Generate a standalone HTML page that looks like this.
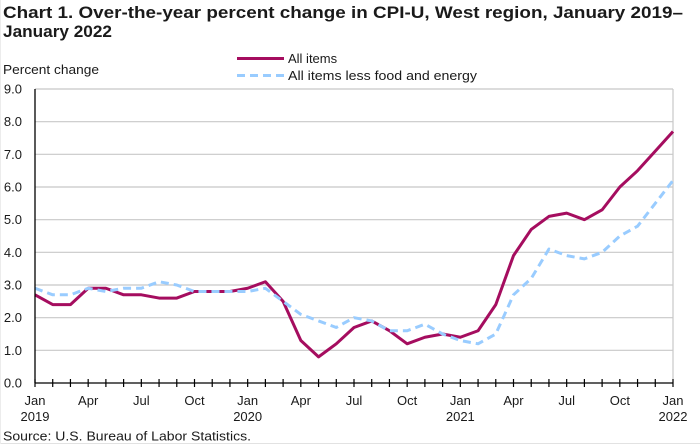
<!DOCTYPE html>
<html>
<head>
<meta charset="utf-8">
<style>
html,body{margin:0;padding:0;background:#fff;}
svg{display:block;}
text{font-family:"Liberation Sans",Arial,sans-serif;fill:#1a1a1a;}
</style>
</head>
<body>
<svg width="700" height="445" viewBox="0 0 700 445" xmlns="http://www.w3.org/2000/svg">
<rect x="0" y="0" width="700" height="445" fill="#fff"/>
<line x1="0" y1="443.5" x2="700" y2="443.5" stroke="#e2e2e2" stroke-width="1"/>
<line x1="0.5" y1="0" x2="0.5" y2="444" stroke="#ececec" stroke-width="1"/>

<!-- Title -->
<text x="3" y="18" font-size="16.5" font-weight="bold" textLength="680" lengthAdjust="spacingAndGlyphs">Chart 1. Over-the-year percent change in CPI-U, West region, January 2019–</text>
<text x="3" y="37" font-size="16.5" font-weight="bold" textLength="109" lengthAdjust="spacingAndGlyphs">January 2022</text>

<!-- Legend -->
<line x1="237" y1="58.5" x2="284" y2="58.5" stroke="#A50D5F" stroke-width="3"/>
<text x="288" y="63" font-size="13">All items</text>
<line x1="237" y1="75.5" x2="284" y2="75.5" stroke="#99CCFF" stroke-width="3" stroke-dasharray="8,5"/>
<text x="288" y="80" font-size="13" textLength="189" lengthAdjust="spacingAndGlyphs">All items less food and energy</text>

<!-- Y label -->
<text x="3" y="74" font-size="13" textLength="96" lengthAdjust="spacingAndGlyphs">Percent change</text>

<!-- gridlines -->
<g stroke="#c8c8c8" stroke-width="1.2">
<line x1="35" y1="350.33" x2="673" y2="350.33"/>
<line x1="35" y1="317.67" x2="673" y2="317.67"/>
<line x1="35" y1="285" x2="673" y2="285"/>
<line x1="35" y1="252.33" x2="673" y2="252.33"/>
<line x1="35" y1="219.67" x2="673" y2="219.67"/>
<line x1="35" y1="187" x2="673" y2="187"/>
<line x1="35" y1="154.33" x2="673" y2="154.33"/>
<line x1="35" y1="121.67" x2="673" y2="121.67"/>
<line x1="35" y1="89" x2="673" y2="89"/>
<line x1="673" y1="89" x2="673" y2="383"/>
</g>

<!-- Y tick labels -->
<g font-size="13" text-anchor="end">
<text x="22" y="387.5">0.0</text>
<text x="22" y="354.8">1.0</text>
<text x="22" y="322.2">2.0</text>
<text x="22" y="289.5">3.0</text>
<text x="22" y="256.8">4.0</text>
<text x="22" y="224.2">5.0</text>
<text x="22" y="191.5">6.0</text>
<text x="22" y="158.8">7.0</text>
<text x="22" y="126.2">8.0</text>
<text x="22" y="93.5">9.0</text>
</g>

<!-- series -->
<polyline fill="none" stroke="#A50D5F" stroke-width="3" stroke-linejoin="round" points="35,294.8 52.72,304.6 70.44,304.6 88.17,288.27 105.89,288.27 123.61,294.8 141.33,294.8 159.06,298.07 176.78,298.07 194.5,291.53 212.22,291.53 229.94,291.53 247.67,288.27 265.39,281.73 283.11,301.33 300.83,340.53 318.56,356.87 336.28,343.8 354,327.47 371.72,320.93 389.44,330.73 407.17,343.8 424.89,337.27 442.61,334 460.33,337.27 478.06,330.73 495.78,304.6 513.5,255.6 531.22,229.47 548.94,216.4 566.67,213.13 584.39,219.67 602.11,209.87 619.83,187 637.56,170.67 655.28,151.07 673,131.47"/>
<polyline fill="none" stroke="#99CCFF" stroke-width="3" stroke-dasharray="8,5" stroke-linejoin="round" points="35,288.27 52.72,294.8 70.44,294.8 88.17,288.27 105.89,291.53 123.61,288.27 141.33,288.27 159.06,281.73 176.78,285 194.5,291.53 212.22,291.53 229.94,291.53 247.67,291.53 265.39,288.27 283.11,301.33 300.83,314.4 318.56,320.93 336.28,327.47 354,317.67 371.72,320.93 389.44,330.73 407.17,330.73 424.89,324.2 442.61,334 460.33,340.53 478.06,343.8 495.78,334 513.5,294.8 531.22,278.47 548.94,249.07 566.67,255.6 584.39,258.87 602.11,252.33 619.83,236 637.56,226.2 655.28,203.33 673,180.47"/>

<!-- axes -->
<line x1="35" y1="89" x2="35" y2="383" stroke="#000" stroke-width="1.3"/>
<line x1="35" y1="383" x2="673" y2="383" stroke="#000" stroke-width="1.3"/>
<g stroke="#000" stroke-width="1.2">
<line x1="35" y1="379" x2="35" y2="387"/>
<line x1="52.72" y1="379" x2="52.72" y2="387"/>
<line x1="70.44" y1="379" x2="70.44" y2="387"/>
<line x1="88.17" y1="379" x2="88.17" y2="387"/>
<line x1="105.89" y1="379" x2="105.89" y2="387"/>
<line x1="123.61" y1="379" x2="123.61" y2="387"/>
<line x1="141.33" y1="379" x2="141.33" y2="387"/>
<line x1="159.06" y1="379" x2="159.06" y2="387"/>
<line x1="176.78" y1="379" x2="176.78" y2="387"/>
<line x1="194.5" y1="379" x2="194.5" y2="387"/>
<line x1="212.22" y1="379" x2="212.22" y2="387"/>
<line x1="229.94" y1="379" x2="229.94" y2="387"/>
<line x1="247.67" y1="379" x2="247.67" y2="387"/>
<line x1="265.39" y1="379" x2="265.39" y2="387"/>
<line x1="283.11" y1="379" x2="283.11" y2="387"/>
<line x1="300.83" y1="379" x2="300.83" y2="387"/>
<line x1="318.56" y1="379" x2="318.56" y2="387"/>
<line x1="336.28" y1="379" x2="336.28" y2="387"/>
<line x1="354" y1="379" x2="354" y2="387"/>
<line x1="371.72" y1="379" x2="371.72" y2="387"/>
<line x1="389.44" y1="379" x2="389.44" y2="387"/>
<line x1="407.17" y1="379" x2="407.17" y2="387"/>
<line x1="424.89" y1="379" x2="424.89" y2="387"/>
<line x1="442.61" y1="379" x2="442.61" y2="387"/>
<line x1="460.33" y1="379" x2="460.33" y2="387"/>
<line x1="478.06" y1="379" x2="478.06" y2="387"/>
<line x1="495.78" y1="379" x2="495.78" y2="387"/>
<line x1="513.5" y1="379" x2="513.5" y2="387"/>
<line x1="531.22" y1="379" x2="531.22" y2="387"/>
<line x1="548.94" y1="379" x2="548.94" y2="387"/>
<line x1="566.67" y1="379" x2="566.67" y2="387"/>
<line x1="584.39" y1="379" x2="584.39" y2="387"/>
<line x1="602.11" y1="379" x2="602.11" y2="387"/>
<line x1="619.83" y1="379" x2="619.83" y2="387"/>
<line x1="637.56" y1="379" x2="637.56" y2="387"/>
<line x1="655.28" y1="379" x2="655.28" y2="387"/>
<line x1="673" y1="379" x2="673" y2="387"/>
</g>

<!-- X labels -->
<g font-size="13" text-anchor="middle">
<text x="35" y="405">Jan</text>
<text x="35" y="421">2019</text>
<text x="88.17" y="405">Apr</text>
<text x="141.33" y="405">Jul</text>
<text x="194.5" y="405">Oct</text>
<text x="247.67" y="405">Jan</text>
<text x="247.67" y="421">2020</text>
<text x="300.83" y="405">Apr</text>
<text x="354" y="405">Jul</text>
<text x="407.17" y="405">Oct</text>
<text x="460.33" y="405">Jan</text>
<text x="460.33" y="421">2021</text>
<text x="513.5" y="405">Apr</text>
<text x="566.67" y="405">Jul</text>
<text x="619.83" y="405">Oct</text>
<text x="673" y="405">Jan</text>
<text x="673" y="421">2022</text>
</g>

<!-- Source -->
<text x="3" y="440.5" font-size="13" textLength="248" lengthAdjust="spacingAndGlyphs">Source: U.S. Bureau of Labor Statistics.</text>
</svg>
</body>
</html>
